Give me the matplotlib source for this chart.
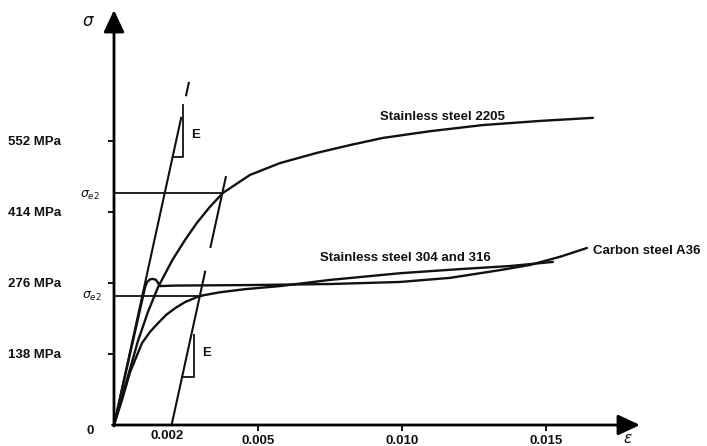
import matplotlib
matplotlib.use('Agg')
import matplotlib.pyplot as plt

plt.rcParams['font.family'] = ['Liberation Sans', 'DejaVu Sans']
plt.rcParams['mathtext.fontset'] = 'dejavusans'

# ---------------- data (strain, stress in MPa) ----------------
E_MOD = 256000.0      # schematic elastic slope used in the sketch
OFFSET = 0.002        # 0.2 % offset

strain_2205 = [0, 0.00042, 0.00083, 0.00118, 0.00153, 0.00203, 0.00247, 0.00288,
               0.00333, 0.00378, 0.00472, 0.00576, 0.00705, 0.00819, 0.00934,
               0.01097, 0.01281, 0.01479, 0.01663]
stress_2205 = [0, 82, 163, 220, 268, 321, 360, 393, 424, 451, 486, 509, 529, 544,
               558, 571, 583, 591, 597]

strain_304 = [0, 0.00028, 0.00056, 0.00097, 0.00125, 0.00153, 0.00181, 0.00212,
              0.00247, 0.00299, 0.00368, 0.00455, 0.00576, 0.0075, 0.00993,
              0.01201, 0.01375, 0.01524]
stress_304 = [0, 49, 103, 159, 181, 198, 214, 227, 239, 251, 258, 264, 270, 282,
              295, 303, 309, 317]

strain_a36 = [0, 0.00108, 0.00115, 0.00125, 0.00135, 0.00146, 0.00153, 0.0016,
              0.00212, 0.00472, 0.0075, 0.00993, 0.01167, 0.0134, 0.01444,
              0.01549, 0.01642]
stress_a36 = [0, 268, 278, 283, 284, 282, 276, 270, 271, 272, 274, 278, 286, 301,
              311, 327, 344]

sigma_e2_2205 = 451
sigma_e2_2205_end = 0.00378
sigma_e2_304 = 251
sigma_e2_304_end = 0.00306

e_line_parts = [(0, 597), (641, 665)]          # stress ranges of the E line
offset_2205_range = (346, 482)
offset_304_range = (0, 298)

tri_upper_strain = [0.002035, 0.0024, 0.0024]
tri_upper_stress = [521, 521, 622]
tri_lower_strain = [0.00236, 0.00278, 0.00278]
tri_lower_stress = [93, 93, 175]

ytick_vals = [138, 276, 414, 552]
ytick_labels = ['138 MPa', '276 MPa', '414 MPa', '552 MPa']
xtick_vals = [0.005, 0.010, 0.015]
xtick_labels = ['0.005', '0.010', '0.015']

# ---------------- figure ----------------
W, H = 707, 446
fig = plt.figure(figsize=(W / 100, H / 100), dpi=100)
ax = fig.add_axes([0, 0, 1, 1])
X0, SX = 114, 28800.0
Y0, SY = 425, 0.5145
ax.set_xlim(-X0 / SX, (W - X0) / SX)
ax.set_ylim((Y0 - H) / SY, Y0 / SY)

def px(x, y):
    return x / W, 1 - y / H

LC = '#111111'
LW = 1.7
FS = 9.5
FW = 'bold'

ax.plot(strain_2205, stress_2205, color=LC, lw=LW, solid_capstyle='round')
ax.plot(strain_304, stress_304, color=LC, lw=LW, solid_capstyle='round')
ax.plot(strain_a36, stress_a36, color=LC, lw=LW, solid_capstyle='round')

# elastic (E) line
for lo, hi in e_line_parts:
    ax.plot([lo / E_MOD, hi / E_MOD], [lo, hi], color=LC, lw=1.5)
# offset lines
lo, hi = offset_2205_range
ax.plot([OFFSET + lo / E_MOD, OFFSET + hi / E_MOD], [lo, hi], color=LC, lw=1.5)
lo, hi = offset_304_range
ax.plot([OFFSET + lo / E_MOD, OFFSET + hi / E_MOD], [lo, hi], color=LC, lw=1.5)

# sigma_e2 horizontals
ax.plot([0, sigma_e2_2205_end], [sigma_e2_2205, sigma_e2_2205], color=LC, lw=1.3)
ax.plot([0, sigma_e2_304_end], [sigma_e2_304, sigma_e2_304], color=LC, lw=1.3)

# E triangles
ax.plot(tri_upper_strain, tri_upper_stress, color=LC, lw=1.3)
ax.plot(tri_lower_strain, tri_lower_stress, color=LC, lw=1.3)

# axes with arrows
for s in ax.spines.values():
    s.set_visible(False)
ax.spines['left'].set_position(('data', 0))
ax.spines['bottom'].set_position(('data', 0))
arrow = dict(arrowstyle='-|>,head_length=0.9,head_width=0.42', lw=2.0,
             color='black', mutation_scale=15, shrinkA=0, shrinkB=0)
ax.annotate('', xy=(0, (Y0 - 10) / SY), xytext=(0, -2), arrowprops=arrow)
ax.annotate('', xy=((640 - X0) / SX, 0), xytext=(-0.00005, 0), arrowprops=arrow)

ax.set_yticks(ytick_vals, ytick_labels)
ax.set_xticks(xtick_vals, xtick_labels)
ax.tick_params(axis='y', direction='out', length=4, width=1.4, pad=34,
               labelsize=FS, colors=LC)
ax.tick_params(axis='x', direction='out', length=4, width=1.4, pad=3,
               labelsize=FS, colors=LC)
for lab in ax.get_xticklabels() + ax.get_yticklabels():
    lab.set_fontweight(FW)

# texts
fig.text(*px(167, 436), '0.002', ha='center', va='center', fontsize=FS, fontweight=FW, color=LC)
fig.text(*px(90, 431), '0', ha='center', va='center', fontsize=FS, fontweight=FW, color=LC)
fig.text(*px(88, 22), r'$\sigma$', ha='center', va='center', fontsize=12, color=LC)
fig.text(*px(628, 439), r'$\varepsilon$', ha='center', va='center', fontsize=11, color=LC)
fig.text(*px(90, 195), r'$\sigma_{e2}$', ha='center', va='center', fontsize=9, color=LC)
fig.text(*px(92, 296), r'$\sigma_{e2}$', ha='center', va='center', fontsize=9, color=LC)
fig.text(*px(196, 135), 'E', ha='center', va='center', fontsize=FS, fontweight=FW, color=LC)
fig.text(*px(207, 353), 'E', ha='center', va='center', fontsize=FS, fontweight=FW, color=LC)
fig.text(*px(442, 117), 'Stainless steel 2205', ha='center', va='center',
         fontsize=FS, fontweight=FW, color=LC)
fig.text(*px(405, 258), 'Stainless steel 304 and 316', ha='center', va='center',
         fontsize=FS, fontweight=FW, color=LC)
fig.text(*px(593, 251), 'Carbon steel A36', ha='left', va='center',
         fontsize=FS, fontweight=FW, color=LC)

fig.savefig('out.png', dpi=100, facecolor='white')
